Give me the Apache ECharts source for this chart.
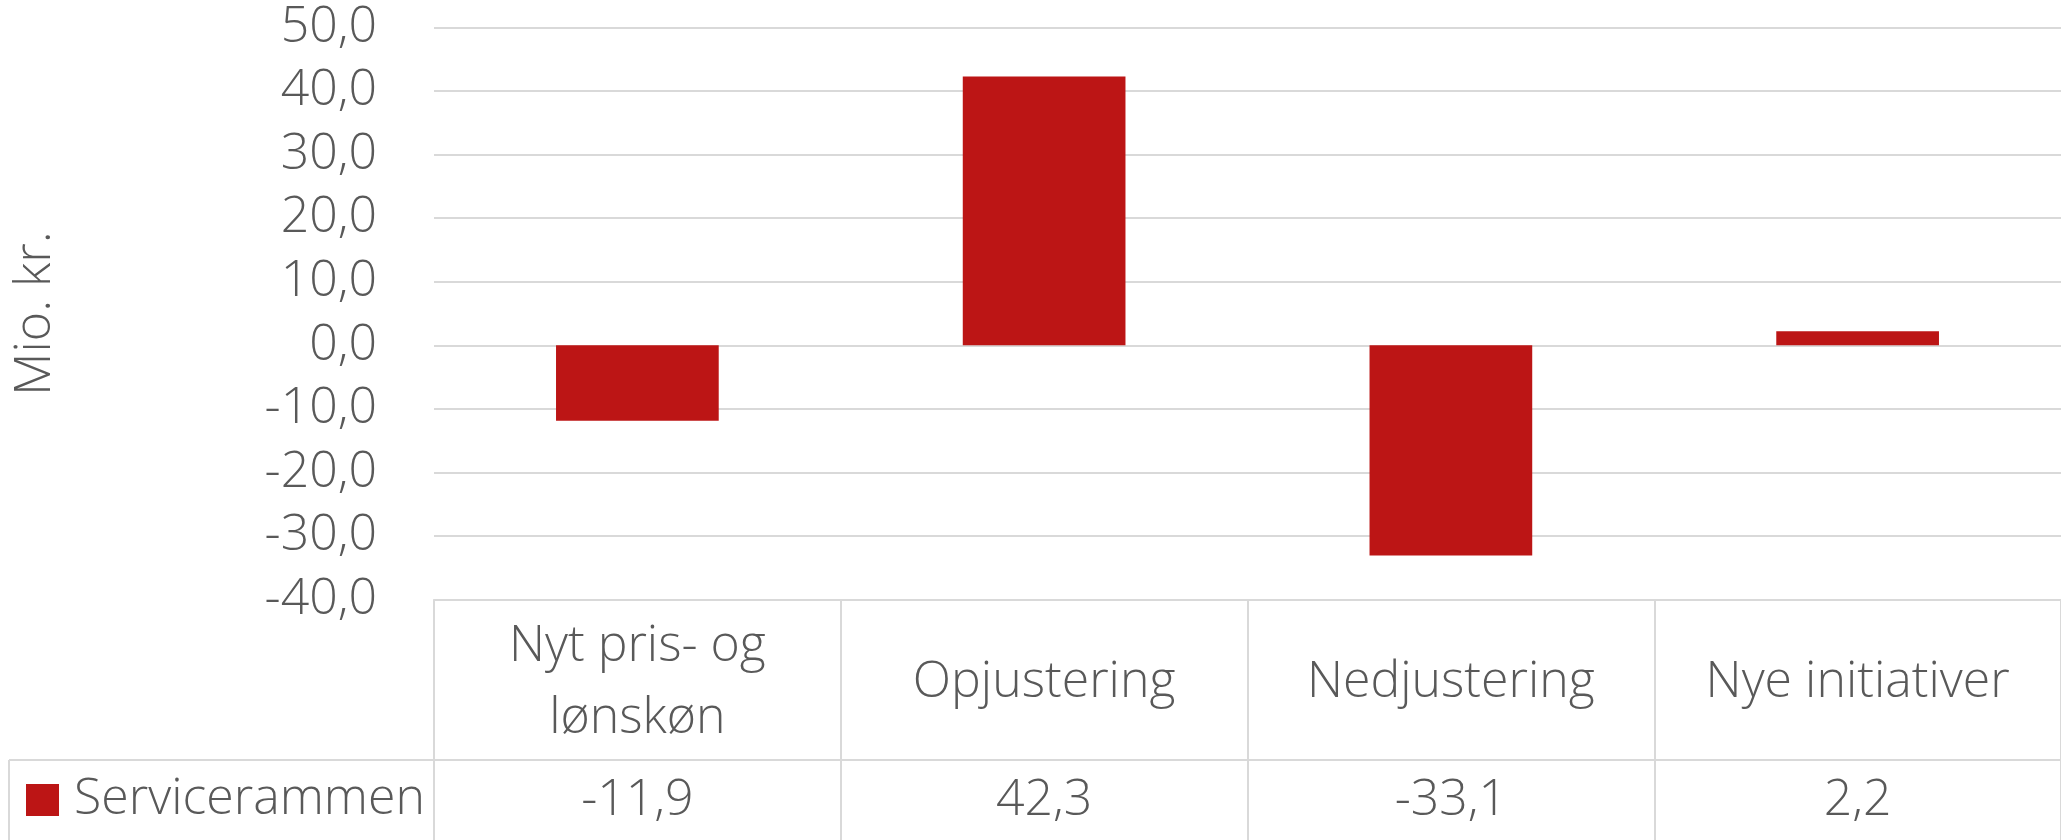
<!DOCTYPE html>
<html>
<head>
<meta charset="utf-8">
<script src="https://cdn.jsdelivr.net/npm/echarts@6/dist/echarts.min.js"></script>
<style>
  html, body { margin: 0; padding: 0; background: #fff; }
  #chart { width: 2061px; height: 840px; }
</style>
</head>
<body>
<div id="chart"></div>
<script>
const categories = ['Nyt pris- og\nlønskøn', 'Opjustering', 'Nedjustering', 'Nye initiativer'];
const serviceValues = [-11.9, 42.3, -33.1, 2.2];
const seriesName = 'Servicerammen';
const yMin = -40, yMax = 50, yStep = 10;

const fmt = (v) => v.toFixed(1).replace('.', ',');
const txtColor = '#595959';
const lineColor = '#d9d9d9';
const fontFam = '"Open Sans", "Noto Sans", sans-serif';

var dom = document.getElementById('chart');
var myChart = echarts.init(dom, null, { renderer: 'canvas' });

var option = {
  animation: false,
  textStyle: { fontFamily: fontFam, fontWeight: 300 },
  grid: { left: 434, right: 0, top: 27.6, bottom: 240.6, containLabel: false },
  legend: {
    data: [{ name: seriesName, icon: 'rect' }],
    left: 26, top: 775, padding: 0,
    itemWidth: 33, itemHeight: 32,
    textStyle: { fontSize: 50, color: txtColor, fontFamily: fontFam, fontWeight: 300, padding: [0, 0, 0, 10] }
  },
  xAxis: [
    {
      type: 'category',
      data: categories,
      position: 'bottom',
      axisLine: { onZero: false, lineStyle: { color: lineColor, width: 2 } },
      axisTick: { show: true, length: 241, lineStyle: { color: lineColor, width: 2 } },
      axisLabel: {
        fontSize: 50, color: txtColor, fontFamily: fontFam, fontWeight: 300,
        margin: 83, verticalAlign: 'middle', lineHeight: 72, interval: 0
      }
    },
    {
      type: 'category',
      data: serviceValues.map(fmt),
      position: 'bottom',
      axisLine: { show: false, onZero: false },
      axisTick: { show: false },
      axisLabel: {
        fontSize: 50, color: txtColor, fontFamily: fontFam, fontWeight: 300,
        margin: 201, verticalAlign: 'middle', interval: 0
      }
    }
  ],
  yAxis: {
    type: 'value',
    min: yMin, max: yMax, interval: yStep,
    name: 'Mio. kr.',
    nameLocation: 'middle',
    nameRotate: 90,
    nameGap: 373,
    nameTextStyle: { fontSize: 50, color: txtColor, fontFamily: fontFam, fontWeight: 300 },
    axisLine: { show: false },
    axisTick: { show: false },
    axisLabel: { fontSize: 50, color: txtColor, fontFamily: fontFam, fontWeight: 300, margin: 57, formatter: fmt },
    splitLine: { lineStyle: { color: lineColor, width: 2 } }
  },
  series: [
    {
      name: seriesName,
      type: 'bar',
      data: serviceValues,
      barWidth: '40%',
      itemStyle: { color: '#bc1515' }
    }
  ],
  graphic: [
    { type: 'line', shape: { x1: 9, y1: 760, x2: 2061, y2: 760 }, style: { stroke: lineColor, lineWidth: 2 } },
    { type: 'line', shape: { x1: 9, y1: 760, x2: 9, y2: 840 }, style: { stroke: lineColor, lineWidth: 2 } }
  ]
};

if (option && typeof option === 'object') {
  myChart.setOption(option);
}
window.addEventListener('resize', myChart.resize);
</script>
</body>
</html>
